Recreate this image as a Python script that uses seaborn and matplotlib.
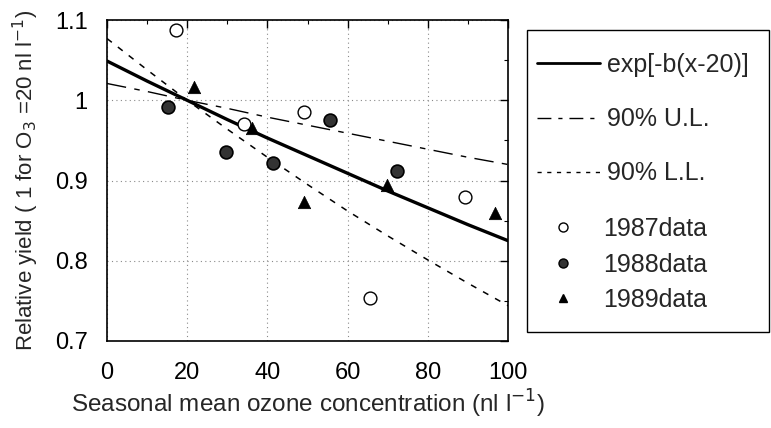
import matplotlib
matplotlib.use("Agg")
import matplotlib.pyplot as plt
import seaborn as sns
import pandas as pd
from matplotlib.lines import Line2D
from matplotlib.patches import Rectangle
from matplotlib.ticker import MultipleLocator

sns.set_style("white")
plt.rcParams['font.family'] = ['Liberation Sans', 'DejaVu Sans']

# Curve values
curve_x = [0, 10, 20, 30, 40, 50, 60, 70, 80, 90, 100]
fit_y = [1.049, 1.024, 1.000, 0.976, 0.953, 0.931, 0.909, 0.887, 0.866, 0.845, 0.825]
ul_y = [1.021, 1.011, 1.000, 0.990, 0.979, 0.969, 0.959, 0.949, 0.939, 0.929, 0.920]
ll_y = [1.077, 1.038, 1.000, 0.964, 0.929, 0.895, 0.862, 0.831, 0.801, 0.772, 0.744]

# Data points
x1987 = [17.2, 34.2, 49.1, 65.5, 89.2]
y1987 = [1.088, 0.970, 0.985, 0.753, 0.880]
x1988 = [15.3, 29.7, 41.3, 55.5, 72.4]
y1988 = [0.992, 0.935, 0.922, 0.975, 0.912]
x1989 = [21.6, 36.1, 49.2, 69.7, 96.7]
y1989 = [1.017, 0.965, 0.873, 0.894, 0.860]

line_labels = ["exp[-b(x-20)]", "90% U.L.", "90% L.L."]
data_labels = ["1987data", "1988data", "1989data"]
xticks = [0, 20, 40, 60, 80, 100]
yticks = [0.7, 0.8, 0.9, 1.0, 1.1]
yticklabels = ["0.7", "0.8", "0.9", "1", "1.1"]

fig = plt.figure(figsize=(7.71, 4.28), dpi=100)
ax = fig.add_axes([0.1388, 0.2033, 0.5202, 0.7497])

curves = pd.DataFrame({"x": curve_x, "fit": fit_y, "ul": ul_y, "ll": ll_y})
sns.lineplot(data=curves, x="x", y="fit", ax=ax, color="black", lw=2.4, zorder=3)
sns.lineplot(data=curves, x="x", y="ul", ax=ax, color="black", lw=1.0,
             linestyle=(0, (14, 6, 4, 6)), zorder=3)
sns.lineplot(data=curves, x="x", y="ll", ax=ax, color="black", lw=1.1,
             linestyle=(0, (4, 5)), zorder=3)

d87 = pd.DataFrame({"x": x1987, "y": y1987})
d88 = pd.DataFrame({"x": x1988, "y": y1988})
d89 = pd.DataFrame({"x": x1989, "y": y1989})
sns.scatterplot(data=d87, x="x", y="y", ax=ax, marker="o", s=85,
                facecolor="white", edgecolor="black", linewidth=1.0, zorder=4)
sns.scatterplot(data=d88, x="x", y="y", ax=ax, marker="o", s=85,
                facecolor="#333333", edgecolor="black", linewidth=1.2, zorder=4)
sns.scatterplot(data=d89, x="x", y="y", ax=ax, marker="^", s=80,
                color="black", edgecolor="black", linewidth=0.5, zorder=4)

ax.set_xlim(0, 100)
ax.set_ylim(0.7, 1.1)
ax.set_xticks(xticks)
ax.set_yticks(yticks)
ax.set_yticklabels(yticklabels)
ax.xaxis.set_minor_locator(MultipleLocator(10))
ax.yaxis.set_minor_locator(MultipleLocator(0.05))
ax.tick_params(which="both", direction="in", top=True, right=True, colors="black")
ax.tick_params(which="major", length=6, width=1.0, labelsize=17)
ax.tick_params(axis="x", which="major", pad=15)
ax.tick_params(axis="y", which="major", pad=14)
ax.tick_params(which="minor", length=3, width=0.8)
ax.grid(True, which="major", linestyle=(0, (1, 3)), color="#8a8a8a", lw=0.8)
for sp in ax.spines.values():
    sp.set_color("black")
    sp.set_linewidth(1.2)

ax.set_xlabel("Seasonal mean ozone concentration (nl l$^{-1}$)", fontsize=17.5, labelpad=3)
ax.set_ylabel("Relative yield ( 1 for O$_3$ =20 nl l$^{-1}$)", fontsize=16, labelpad=10)

# Legend frame
fig.add_artist(Rectangle((527 / 771, 1 - 332 / 428), 242 / 771, 302 / 428,
                         transform=fig.transFigure, fill=False,
                         edgecolor="black", lw=1.0))

line_handles = [
    Line2D([], [], color="black", lw=2.0),
    Line2D([], [], color="black", lw=1.0, linestyle=(0, (10, 5, 3, 5))),
    Line2D([], [], color="black", lw=1.0, linestyle=(0, (3, 4))),
]
data_handles = [
    Line2D([], [], marker="o", ls="none", mfc="white", mec="black", ms=6.5),
    Line2D([], [], marker="o", ls="none", mfc="#333333", mec="black", ms=6.5),
    Line2D([], [], marker="^", ls="none", mfc="black", mec="black", ms=6),
]
leg1 = fig.legend(line_handles, line_labels, loc="upper left",
                  bbox_to_anchor=(537 / 771, 1 - 53 / 428), fontsize=18,
                  frameon=False, labelspacing=1.21, handlelength=2.52,
                  handletextpad=0.28, borderpad=0, borderaxespad=0)
leg2 = fig.legend(data_handles, data_labels, loc="upper left",
                  bbox_to_anchor=(537 / 771, 1 - 217 / 428), fontsize=18,
                  frameon=False, labelspacing=0.46, handlelength=2.08,
                  handletextpad=0.56, borderpad=0, borderaxespad=0)

fig.savefig("out.png", dpi=100)
